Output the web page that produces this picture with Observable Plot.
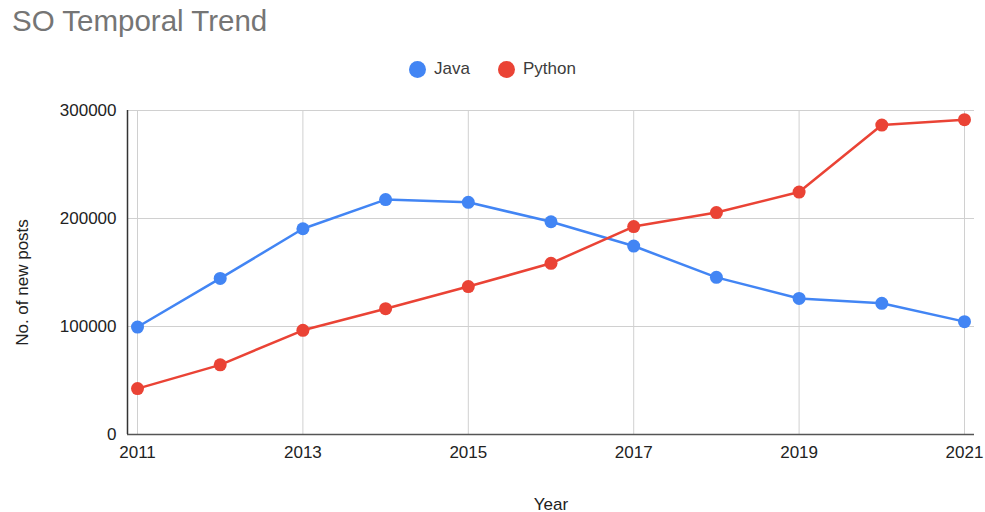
<!DOCTYPE html>
<html>
<head>
<meta charset="utf-8">
<script src="https://cdn.jsdelivr.net/npm/d3@7"></script>
<script src="https://cdn.jsdelivr.net/npm/@observablehq/plot@0.6"></script>
<style>
  html, body { margin: 0; padding: 0; background: #fff; }
  #wrap { position: relative; width: 985px; height: 512px; font-family: "Liberation Sans", Arial, sans-serif; }
  #title { position: absolute; left: 12px; top: 2px; font-size: 29.5px; line-height: 38px; color: #757575; white-space: nowrap; }
  #legend { position: absolute; left: 0; top: 59px; width: 985px; height: 20px; text-align: center; font-size: 17px; line-height: 20px; color: #3c3c3c; }
  .item { display: inline-flex; align-items: center; margin: 0 14px; }
  .sw { width: 17px; height: 17px; border-radius: 50%; display: inline-block; margin-right: 8px; }
  #chart { position: absolute; left: 0; top: 0; }
</style>
</head>
<body>
<div id="wrap">
  <div id="chart"></div>
  <div id="title">SO Temporal Trend</div>
  <div id="legend"></div>
</div>
<script>
// Yearly count of new Stack Overflow posts per language
const years = [2011, 2012, 2013, 2014, 2015, 2016, 2017, 2018, 2019, 2020, 2021];
const java = [99500, 144500, 190500, 217500, 215000, 197000, 174500, 145500, 126000, 121500, 104500];
const python = [42500, 64500, 96500, 116500, 137000, 158500, 192500, 205500, 224500, 286500, 291500];
const seriesNames = ["Java", "Python"];
const seriesColors = ["#4285F4", "#EA4335"];
const yTicks = [0, 100000, 200000, 300000];
const xTicks = [2011, 2013, 2015, 2017, 2019, 2021];

const rows = [
  ...years.map((year, i) => ({year, value: java[i], lang: "Java"})),
  ...years.map((year, i) => ({year, value: python[i], lang: "Python"}))
];

const legend = document.getElementById("legend");
seriesNames.forEach((name, i) => {
  const item = document.createElement("span");
  item.className = "item";
  item.innerHTML = `<span class="sw" style="background:${seriesColors[i]}"></span>${name}`;
  legend.appendChild(item);
});

const font = "'Liberation Sans', Arial, sans-serif";
const xMin = 2010.879;

const chart = Plot.plot({
  width: 985,
  height: 512,
  marginLeft: 127,
  marginRight: 11,
  marginTop: 110,
  marginBottom: 78,
  style: {fontFamily: font, fontSize: "17px", color: "#222", background: "transparent"},
  x: {domain: [xMin, 2021.121]},
  y: {domain: [0, 300000]},
  color: {domain: seriesNames, range: seriesColors},
  marks: [
    Plot.ruleY(yTicks.slice(1), {stroke: "#d0d0d0", strokeWidth: 1, strokeOpacity: 1}),
    Plot.ruleX(xTicks, {stroke: "#d0d0d0", strokeWidth: 1, strokeOpacity: 1}),
    Plot.axisY({ticks: yTicks, tickSize: 0, tickPadding: 11, tickFormat: d => String(d), label: null}),
    Plot.axisX({ticks: xTicks, tickSize: 0, tickPadding: 11, tickFormat: d => String(d), label: null}),
    // axis titles
    Plot.text(["No. of new posts"], {frameAnchor: "left", textAnchor: "middle", rotate: -90, dx: -105, dy: 10, fontSize: 17, fill: "#222"}),
    Plot.text(["Year"], {frameAnchor: "bottom", dy: 75, fontSize: 17, fill: "#222"}),
    Plot.ruleY([0], {stroke: "#555", strokeWidth: 1.5}),
    Plot.ruleX([xMin], {stroke: "#333", strokeWidth: 1.5}),
    Plot.line(rows, {x: "year", y: "value", z: "lang", stroke: "lang", strokeWidth: 2.5}),
    Plot.dot(rows, {x: "year", y: "value", fill: "lang", r: 6.5, stroke: "none"})
  ]
});
document.getElementById("chart").appendChild(chart);
</script>
</body>
</html>
